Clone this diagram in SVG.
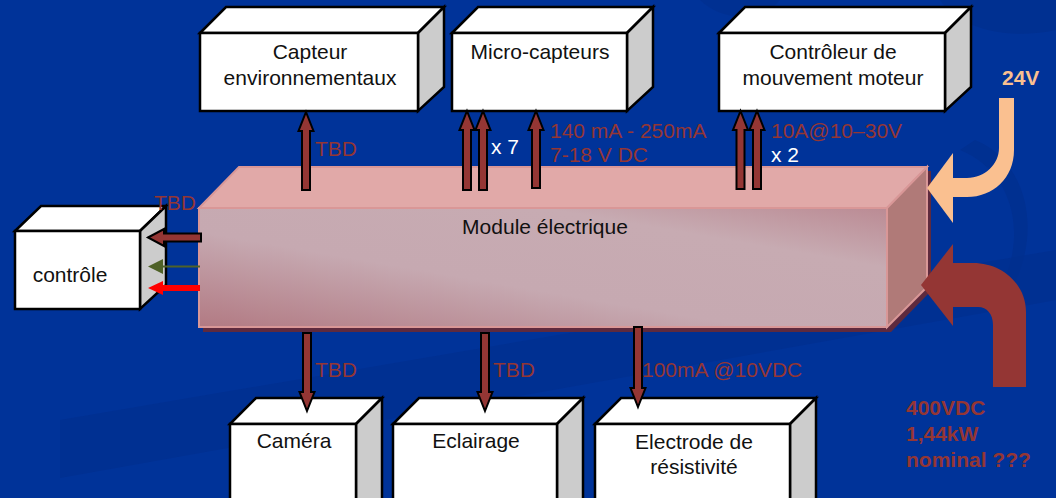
<svg xmlns="http://www.w3.org/2000/svg" width="1056" height="498" viewBox="0 0 1056 498">
<defs>
<style>
.t{font-family:"Liberation Sans",Arial,sans-serif;font-size:21px;fill:#111}
.m{text-anchor:middle}
.lbl{font-family:"Liberation Sans",Arial,sans-serif;font-size:21px;fill:#943634}
.w{font-family:"Liberation Sans",Arial,sans-serif;font-size:21px;fill:#ffffff}
.b{font-family:"Liberation Sans",Arial,sans-serif;font-size:21px;font-weight:bold}
.front{fill:#ffffff;stroke:#000;stroke-width:2.5;stroke-linejoin:miter}
.top{fill:#ffffff;stroke:#000;stroke-width:2.5}
.side{fill:#cccccc;stroke:#000;stroke-width:2.5}
.arr{fill:#943634;stroke:#000;stroke-width:2;stroke-linejoin:miter}
</style>
<linearGradient id="mg" x1="0" y1="1" x2="1" y2="0">
<stop offset="0" stop-color="#b27a83"/>
<stop offset="0.4" stop-color="#c6a9b1"/>
<stop offset="0.75" stop-color="#c7abb2"/>
<stop offset="1" stop-color="#bb8b94"/>
</linearGradient>
</defs>
<rect width="1056" height="498" fill="#003399"/>
<!-- background swooshes -->
<g id="background" fill="#002f8e">
<path d="M60,420 L1056,250 L1056,300 L60,478 Z" opacity="0.7"/>
<path d="M940,0 C960,30 1010,40 1056,30 L1056,0 Z" opacity="0.8"/>
<path d="M700,0 C720,20 760,25 780,0 Z" opacity="0.6"/>
<path d="M960,150 C1010,170 1030,230 1000,290 L1010,292 C1045,230 1025,160 975,140 Z" opacity="0.8"/>
</g>

<!-- Module électrique -->
<g id="module">
<polygon points="203,212 243,171 931,171 931,291 891,332 203,332" fill="#5e2a3e"/>
<polygon points="199,208 239,167 927,167 887,208" fill="#e1a9a8" stroke="#d99797" stroke-width="2"/>
<polygon points="887,208 927,167 927,287 887,327" fill="#b07a78" stroke="#d99797" stroke-width="2"/>
<rect x="199" y="208" width="688" height="119" fill="url(#mg)" stroke="#d99797" stroke-width="2"/>
<text class="t m" x="545" y="234">Module électrique</text>
</g>

<!-- Capteur environnementaux -->
<g id="capteur-env">
<polygon class="top" points="200,33 226,7 444,7 418,33"/>
<polygon class="side" points="418,33 444,7 444,87 418,111"/>
<rect class="front" x="200" y="33" width="218" height="78"/>
<text class="t m" x="310" y="59">Capteur</text>
<text class="t m" x="310" y="85">environnementaux</text>
</g>

<!-- Micro-capteurs -->
<g id="micro-capteurs">
<polygon class="top" points="452,33 478,7 653,7 627,33"/>
<polygon class="side" points="627,33 653,7 653,87 627,111"/>
<rect class="front" x="452" y="33" width="175" height="78"/>
<text class="t m" x="540" y="59">Micro-capteurs</text>
</g>

<!-- Contrôleur de mouvement moteur -->
<g id="controleur">
<polygon class="top" points="719,33 745,7 971,7 945,33"/>
<polygon class="side" points="945,33 971,7 971,87 945,111"/>
<rect class="front" x="719" y="33" width="226" height="78"/>
<text class="t m" x="833" y="59">Contrôleur de</text>
<text class="t m" x="833" y="85">mouvement moteur</text>
</g>

<!-- contrôle -->
<g id="controle">
<polygon class="top" points="15,231 41,206 166,206 140,231"/>
<polygon class="side" points="140,231 166,206 166,285 140,309"/>
<rect class="front" x="15" y="231" width="125" height="78"/>
<text class="t m" x="70" y="282">contrôle</text>
</g>

<!-- Caméra -->
<g id="camera">
<polygon class="top" points="230,424 256,398 382,398 356,424"/>
<polygon class="side" points="356,424 382,398 382,500 356,520"/>
<rect class="front" x="230" y="424" width="126" height="96"/>
<text class="t m" x="294" y="448">Caméra</text>
</g>

<!-- Eclairage -->
<g id="eclairage">
<polygon class="top" points="393,424 419,398 583,398 557,424"/>
<polygon class="side" points="557,424 583,398 583,500 557,520"/>
<rect class="front" x="393" y="424" width="164" height="96"/>
<text class="t m" x="476" y="448">Eclairage</text>
</g>

<!-- Electrode de résistivité -->
<g id="electrode">
<polygon class="top" points="595,424 621,398 816,398 790,424"/>
<polygon class="side" points="790,424 816,398 816,500 790,520"/>
<rect class="front" x="595" y="424" width="195" height="96"/>
<text class="t m" x="694" y="449">Electrode de</text>
<text class="t m" x="694" y="474">résistivité</text>
</g>

<!-- connectors -->
<g id="connectors">
<!-- up arrows -->
<polygon class="arr" points="306,112 313.5,131 310,131 310,190 302,190 302,131 298.5,131"/>
<polygon class="arr" points="467,111 474.5,130 471,130 471,190 463,190 463,130 459.5,130"/>
<polygon class="arr" points="483,111 490.5,130 487,130 487,190 479,190 479,130 475.5,130"/>
<polygon class="arr" points="536,111 543.5,130 540,130 540,188 532,188 532,130 528.5,130"/>
<polygon class="arr" points="740.5,111 748,130 744.5,130 744.5,189 736.5,189 736.5,130 733,130"/>
<polygon class="arr" points="757,111 764.5,130 761,130 761,189 753,189 753,130 749.5,130"/>
<!-- down arrows -->
<polygon class="arr" points="307,411 314.5,392 311,392 311,333 303,333 303,392 299.5,392"/>
<polygon class="arr" points="485,411 492.5,392 489,392 489,333 481,333 481,392 477.5,392"/>
<polygon class="arr" points="638,407 645.5,388 642,388 642,327 634,327 634,388 630.5,388"/>
<!-- left arrows to contrôle -->
<polygon class="arr" points="148,237.5 164,229 164,233.5 201,233.5 201,241.5 164,241.5 164,246"/>
<line x1="200" y1="266.5" x2="160" y2="266.5" stroke="#4f6228" stroke-width="2"/>
<polygon points="148,266.5 163,259 163,274" fill="#4f6228"/>
<line x1="200" y1="288" x2="160" y2="288" stroke="#ff0000" stroke-width="6"/>
<polygon points="148,288 163,281 163,295" fill="#ff0000"/>
<!-- 24V arrow -->
<path d="M999,98 L1014,98 L1014,150 C1014,178 993,197 967,197 L953,197 L953,178 L967,178 C985,178 999,164 999,148 Z" fill="#fac090"/>
<polygon points="927,188 953,153 953,223" fill="#fac090"/>
<!-- 400VDC arrow -->
<path d="M953,263 L973,263 C1003,263 1026,285 1026,312 L1026,387 L993,387 L993,325 C993,314 987,307 978,307 L953,307 Z" fill="#943634"/>
<polygon points="921,285 953,244 953,326" fill="#943634"/>
</g>

<!-- labels -->
<g id="labels">
<text class="lbl" x="315" y="156">TBD</text>
<text class="w" x="491" y="154">x 7</text>
<text class="lbl" x="550" y="138">140 mA - 250mA</text>
<text class="lbl" x="550" y="162">7-18 V DC</text>
<text class="lbl" x="771" y="138">10A@10–30V</text>
<text class="w" x="771" y="162">x 2</text>
<text class="lbl" x="154" y="210">TBD</text>
<text class="lbl" x="315" y="377">TBD</text>
<text class="lbl" x="493" y="377">TBD</text>
<text class="lbl" x="642" y="377">100mA @10VDC</text>
<text class="b" x="1002" y="85" fill="#fac090">24V</text>
<text class="b" x="906" y="415" fill="#943634">400VDC</text>
<text class="b" x="906" y="441" fill="#943634">1,44kW</text>
<text class="b" x="906" y="467" fill="#943634">nominal ???</text>
</g>
</svg>
